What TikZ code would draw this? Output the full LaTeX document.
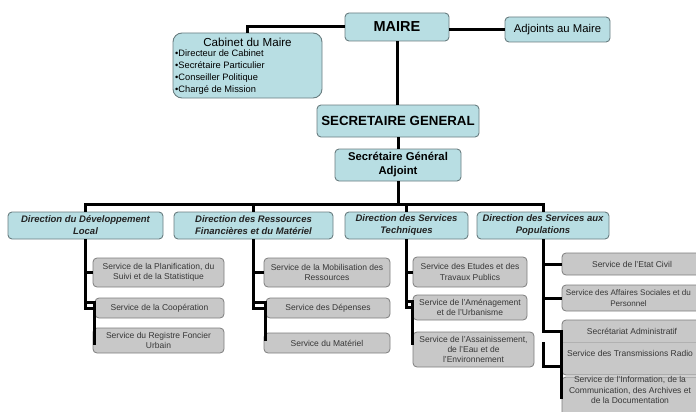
\documentclass[tikz,border=0pt]{standalone}
\usepackage{fontspec}
\setmainfont{Liberation Sans}
\definecolor{tealfill}{RGB}{184,222,227}
\definecolor{tealline}{RGB}{105,125,128}
\definecolor{greyfill}{RGB}{200,200,200}
\definecolor{greyline}{RGB}{125,125,125}
\definecolor{servtext}{RGB}{55,55,55}
\definecolor{dirtext}{RGB}{35,35,35}
\begin{document}
\begin{tikzpicture}[x=1pt,y=-1pt,
  sz/.style 2 args={minimum width=#1pt, minimum height=#2pt},
  tbox/.style={draw=tealline, fill=tealfill, rounded corners=4pt, line width=0.9pt, inner sep=1pt, align=center, text=black},
  dirbox/.style={tbox, font=\fontsize{9.5}{12}\selectfont\bfseries\itshape, text=dirtext},
  sbox/.style={draw=greyline, fill=greyfill, rounded corners=4pt, line width=0.8pt, inner sep=1pt, align=center, text=servtext, font=\fontsize{8.5}{10.3}\selectfont},
  stext/.style={inner sep=0pt, align=center, text=servtext, font=\fontsize{8.5}{10.3}\selectfont},
  conn/.style={line width=3pt, black}]
\useasboundingbox (0,0) rectangle (696,412);
\clip (0,0) rectangle (696,412);
% top level
\node[tbox, sz={104}{28}, font=\fontsize{14.5}{16}\selectfont\bfseries] (maire) at (397,27) {MAIRE};
\node[tbox, sz={105}{25}, font=\fontsize{11.3}{13}\selectfont] (adj) at (557.5,29.5) {Adjoints au Maire};
\node[tbox, sz={149}{65}, rounded corners=9pt] (cab) at (247.5,65.5) {};
\node[inner sep=0pt, font=\fontsize{11.6}{13}\selectfont, anchor=base] (cabt) at (247.5,47) {Cabinet du Maire};
\node[inner sep=0pt, anchor=north west, align=left, font=\fontsize{9.3}{12}\selectfont] (cabl) at (175,50) {•Directeur de Cabinet\\•Secrétaire Particulier\\•Conseiller Politique\\•Chargé de Mission};
\node[tbox, sz={162}{32}, font=\fontsize{13.3}{15}\selectfont\bfseries] (sg) at (398,121) {SECRETAIRE GENERAL};
\node[tbox, sz={126}{32}, font=\fontsize{11.3}{14}\selectfont\bfseries] (sga) at (398,165) {Secrétaire Général\\Adjoint};
% directions
\node[dirbox, sz={155}{27}] (ddl) at (85.5,225.5) {Direction du Développement\\Local};
\node[dirbox, sz={159}{27}] (drfm) at (253.5,225.5) {Direction des Ressources\\Financières et du Matériel};
\node[dirbox, sz={123}{27}] (dst) at (406.5,225.5) {Direction des Services\\Techniques};
\node[dirbox, sz={132}{27}] (dsp) at (543,225.5) {Direction des Services aux\\Populations};
% services DDL
\node[sbox, sz={131}{29}] (d1) at (158.5,272.5) {Service de la Planification, du\\Suivi et de la Statistique};
\node[sbox, sz={129}{20}] (d2) at (159.5,308) {Service de la Coopération};
\node[sbox, sz={131}{25}] (d3) at (158.5,340.5) {Service du Registre Foncier\\Urbain};
% services DRFM
\node[sbox, sz={126}{29}] (r1) at (327,272.5) {Service de la Mobilisation des\\Ressources};
\node[sbox, sz={124}{20}] (r2) at (328,308) {Service des Dépenses};
\node[sbox, sz={126}{20}] (r3) at (327,343) {Service du Matériel};
% services DST
\node[sbox, sz={114}{30}] (t1) at (470,272) {Service des Etudes et des\\Travaux Publics};
\node[sbox, sz={114}{25}] (t2) at (470,307.5) {Service de l'Aménagement\\et de l'Urbanisme};
\node[sbox, sz={121}{35}] (t3) at (473.5,349.5) {Service de l'Assainissement,\\de l'Eau et de\\l'Environnement};
% services DSP
\node[sbox, sz={140}{22}] (p1) at (632,264) {Service de l'Etat Civil};
\node[sbox, sz={140}{26}] (p2box) at (632,298) {};
\node[stext, font=\fontsize{8.1}{10.3}\selectfont] (p2) at (628.5,298) {Service des Affaires Sociales et du\\Personnel};
\node[sbox, sz={140}{55}] (p3box) at (632,347.5) {};
\node[stext] (p3) at (632,331) {Secrétariat Administratif};
\draw[greyline!60, line width=0.6pt] (p3box.west |- 0,342) coordinate (p4l) -- (p4l -| p3box.east);
\node[stext] (p4) at (630,353) {Service des Transmissions Radio};
\node[sbox, sz={140}{40}] (p5) at (632,397) {};
\node[stext] (p5t) at (630,390) {Service de l'Information, de la\\Communication, des Archives et\\de la Documentation};
% connectors top
\draw[conn] (maire.west) -| (cab.north);
\draw[conn] (adj.west) -- (adj.west -| maire.east);
\draw[conn] (maire.south) -- (maire.south |- sg.north);
\draw[conn] (sg.south) -- (sga.north);
\coordinate (bus) at (0,204);
\draw[conn] (sga.south) -- (sga.south |- bus);
\draw[conn] (ddl.north) |- (bus -| dsp.north) -- (dsp.north);
\draw[conn] (drfm.north) -- (drfm.north |- bus);
\draw[conn] (dst.north) -- (dst.north |- bus);
% DDL branches
\draw[conn] (ddl.south) |- (d2.west);
\draw[conn] (ddl.south |- d1.west) -- (d1.west);
\draw[conn] ([yshift=6pt]ddl.south |- d2.west) -- ([yshift=6pt]d2.west) -- ([yshift=-4pt]d2.west |- d3.west);
% DRFM branches
\draw[conn] (drfm.south) |- (r2.west);
\draw[conn] (drfm.south |- r1.west) -- (r1.west);
\draw[conn] ([yshift=6pt]drfm.south |- r2.west) -- ([yshift=6pt]r2.west) -- ([yshift=2pt]r2.west |- r3.west);
% DST branches
\draw[conn] (dst.south) |- (t2.west);
\draw[conn] (dst.south |- t1.west) -- (t1.west);
\draw[conn] ([yshift=6pt]dst.south |- t2.west) -- ([yshift=6pt]t2.west) -- ([yshift=5pt]t2.west |- t3.west);
% DSP branches
\draw[conn] (dsp.south) |- (p3box.west |- p3.west) -- ([yshift=-34pt]p3box.west |- p3.west);
\draw[conn] (dsp.south |- p1.west) -- (p1.west);
\draw[conn] (dsp.south |- p2box.west) -- (p2box.west);
\draw[conn] (dsp.south |- p4l) |- ([yshift=10pt]p5.north west) -- ([yshift=-22pt]p5.north west);
\end{tikzpicture}
\end{document}
